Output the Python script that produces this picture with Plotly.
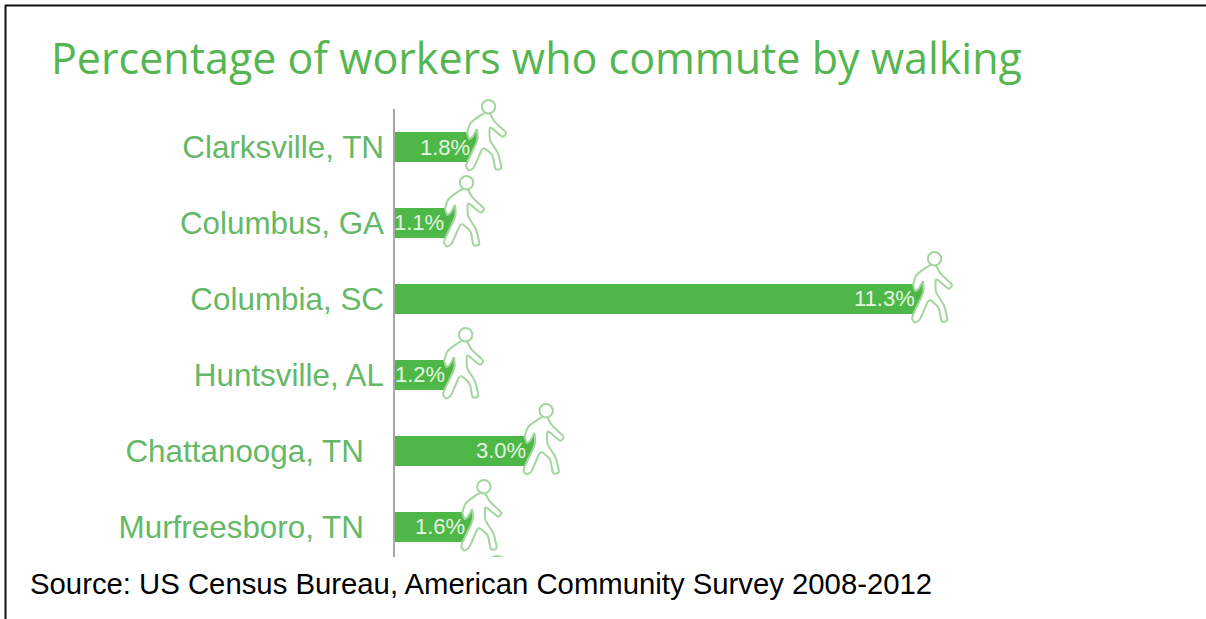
import plotly.graph_objects as go

cities = ["Clarksville, TN", "Columbus, GA", "Columbia, SC", "Huntsville, AL", "Chattanooga, TN", "Murfreesboro, TN"]
# drawn bar lengths (the printed labels are given separately)
shares = [1.77, 1.3, 11.3, 1.28, 3.0, 1.67]
bar_labels = ["1.8%", "1.1%", "11.3%", "1.2%", "3.0%", "1.6%"]
tick_labels = ["Clarksville, TN", "Columbus, GA", "Columbia, SC", "Huntsville, AL",
               "Chattanooga, TN\u00a0\u00a0\u200a", "Murfreesboro, TN\u00a0\u00a0\u200a"]
label_shift = [-5, -9, -6, -7, -6, -5]

GREEN = "#4db848"
W, H = 1206, 619
PX_L, PX_R, PX_T, PX_B = 394, 1000, 90, 557
AXIS_TOP = 109
px_per_unit = 46.8


def px(x):
    return (x - PX_L) / (PX_R - PX_L)


def py(y):
    return (PX_B - y) / (PX_B - PX_T)


# walker outline: pixels from the bar end (x) and the bar centre (y, upward)
OUTLINE = [(14, 34), (0.5, 24.5), (-3, 14.3), (-0.5, 7.5), (3, 10.3), (7.3, 18.7), (8, 7), (-4.5, -19),
           (-1, -24), (4, -21), (13, 0.3), (23, -8), (25.5, -23), (32, -22), (28.5, -6.3),
           (19.7, 7), (19.7, 21), (33, 9.5), (37, 14), (24, 26), (20, 34)]


def rounded(points, dx, t=0.25):
    pts = [(x + dx, y) for x, y in points]
    lerp = lambda a, b, f: (a[0] + (b[0] - a[0]) * f, a[1] + (b[1] - a[1]) * f)
    n = len(pts)
    d = ""
    for i in range(n):
        prev, cur, nxt = pts[i - 1], pts[i], pts[(i + 1) % n]
        a, b = lerp(cur, prev, t), lerp(cur, nxt, t)
        d += ("M" if i == 0 else " L") + f" {a[0]:.2f},{a[1]:.2f}"
        d += f" Q {cur[0]:.2f},{cur[1]:.2f} {b[0]:.2f},{b[1]:.2f}"
    return d + " Z"


BODY = rounded(OUTLINE, -7)
HEAD = ("M 5,40.3 C 5,44 8,47 11.7,47 C 15.4,47 18.4,44 18.4,40.3 "
        "C 18.4,36.6 15.4,33.6 11.7,33.6 C 8,33.6 5,36.6 5,40.3 Z")
CROPPED_HEAD = "M 19,-31 Q 25,-27 31,-31"

fig = go.Figure()
fig.add_trace(go.Bar(
    y=cities, x=shares, orientation="h", marker=dict(color=GREEN, line_width=0),
    width=30 / 76, hoverinfo="skip", showlegend=False,
))

WALK = dict(color="#a3d69e", width=2)
shapes = [
    dict(type="line", xref="paper", yref="paper", x0=px(5), x1=px(W), y0=py(5.5), y1=py(5.5),
         line=dict(color="#111111", width=2)),
    dict(type="line", xref="paper", yref="paper", x0=px(5.5), x1=px(5.5), y0=py(5), y1=py(H),
         line=dict(color="#111111", width=2)),
    dict(type="line", xref="paper", yref="paper", x0=0, x1=0, y0=0, y1=py(AXIS_TOP),
         line=dict(color="#a6a6a6", width=2)),
]
for c, v in zip(cities, shares):
    for p in (BODY, HEAD):
        shapes.append(dict(type="path", xref="x", yref="y", xsizemode="pixel", ysizemode="pixel",
                           xanchor=v, yanchor=c, path=p, fillcolor="white", line=WALK))
shapes.append(dict(type="path", xref="x", yref="y", xsizemode="pixel", ysizemode="pixel",
                   xanchor=shares[-1], yanchor=cities[-1], path=CROPPED_HEAD, line=WALK))

annotations = [
    dict(text="Percentage of workers who commute by walking", xref="paper", yref="paper",
         x=px(49), y=py(58), xanchor="left", yanchor="middle",
         showarrow=False, font=dict(family="Open Sans", size=43, color="#54b650")),
    dict(text="Source: US Census Bureau, American Community Survey 2008-2012", xref="paper", yref="paper",
         x=px(28), y=py(583), xanchor="left", yanchor="middle",
         showarrow=False, font=dict(family="Liberation Sans", size=29.3, color="#000000")),
]
for c, v, t, s in zip(cities, shares, bar_labels, label_shift):
    annotations.append(dict(text=t, x=v, y=c, xref="x", yref="y", xanchor="right", yanchor="middle",
                            xshift=s, showarrow=False,
                            font=dict(family="Liberation Sans", size=22, color="#e6f5e3")))

fig.update_layout(
    width=W, height=H, autosize=False,
    margin=dict(l=PX_L, r=W - PX_R, t=PX_T, b=H - PX_B, pad=0),
    paper_bgcolor="white", plot_bgcolor="rgba(0,0,0,0)",
    shapes=shapes, annotations=annotations,
    xaxis=dict(range=[0, (PX_R - PX_L) / px_per_unit], visible=False, fixedrange=True),
    yaxis=dict(type="category", categoryorder="array", categoryarray=cities, tickvals=cities, ticktext=tick_labels,
               range=[5.395, -0.75], showgrid=False, zeroline=False, ticks="", showline=False,
               ticklabelstandoff=9, fixedrange=True,
               tickfont=dict(family="Liberation Sans", size=31.4, color="#65b867")),
)
fig.write_html("out.html", config={"displayModeBar": False},
               post_script="document.body.style.margin='0';")
